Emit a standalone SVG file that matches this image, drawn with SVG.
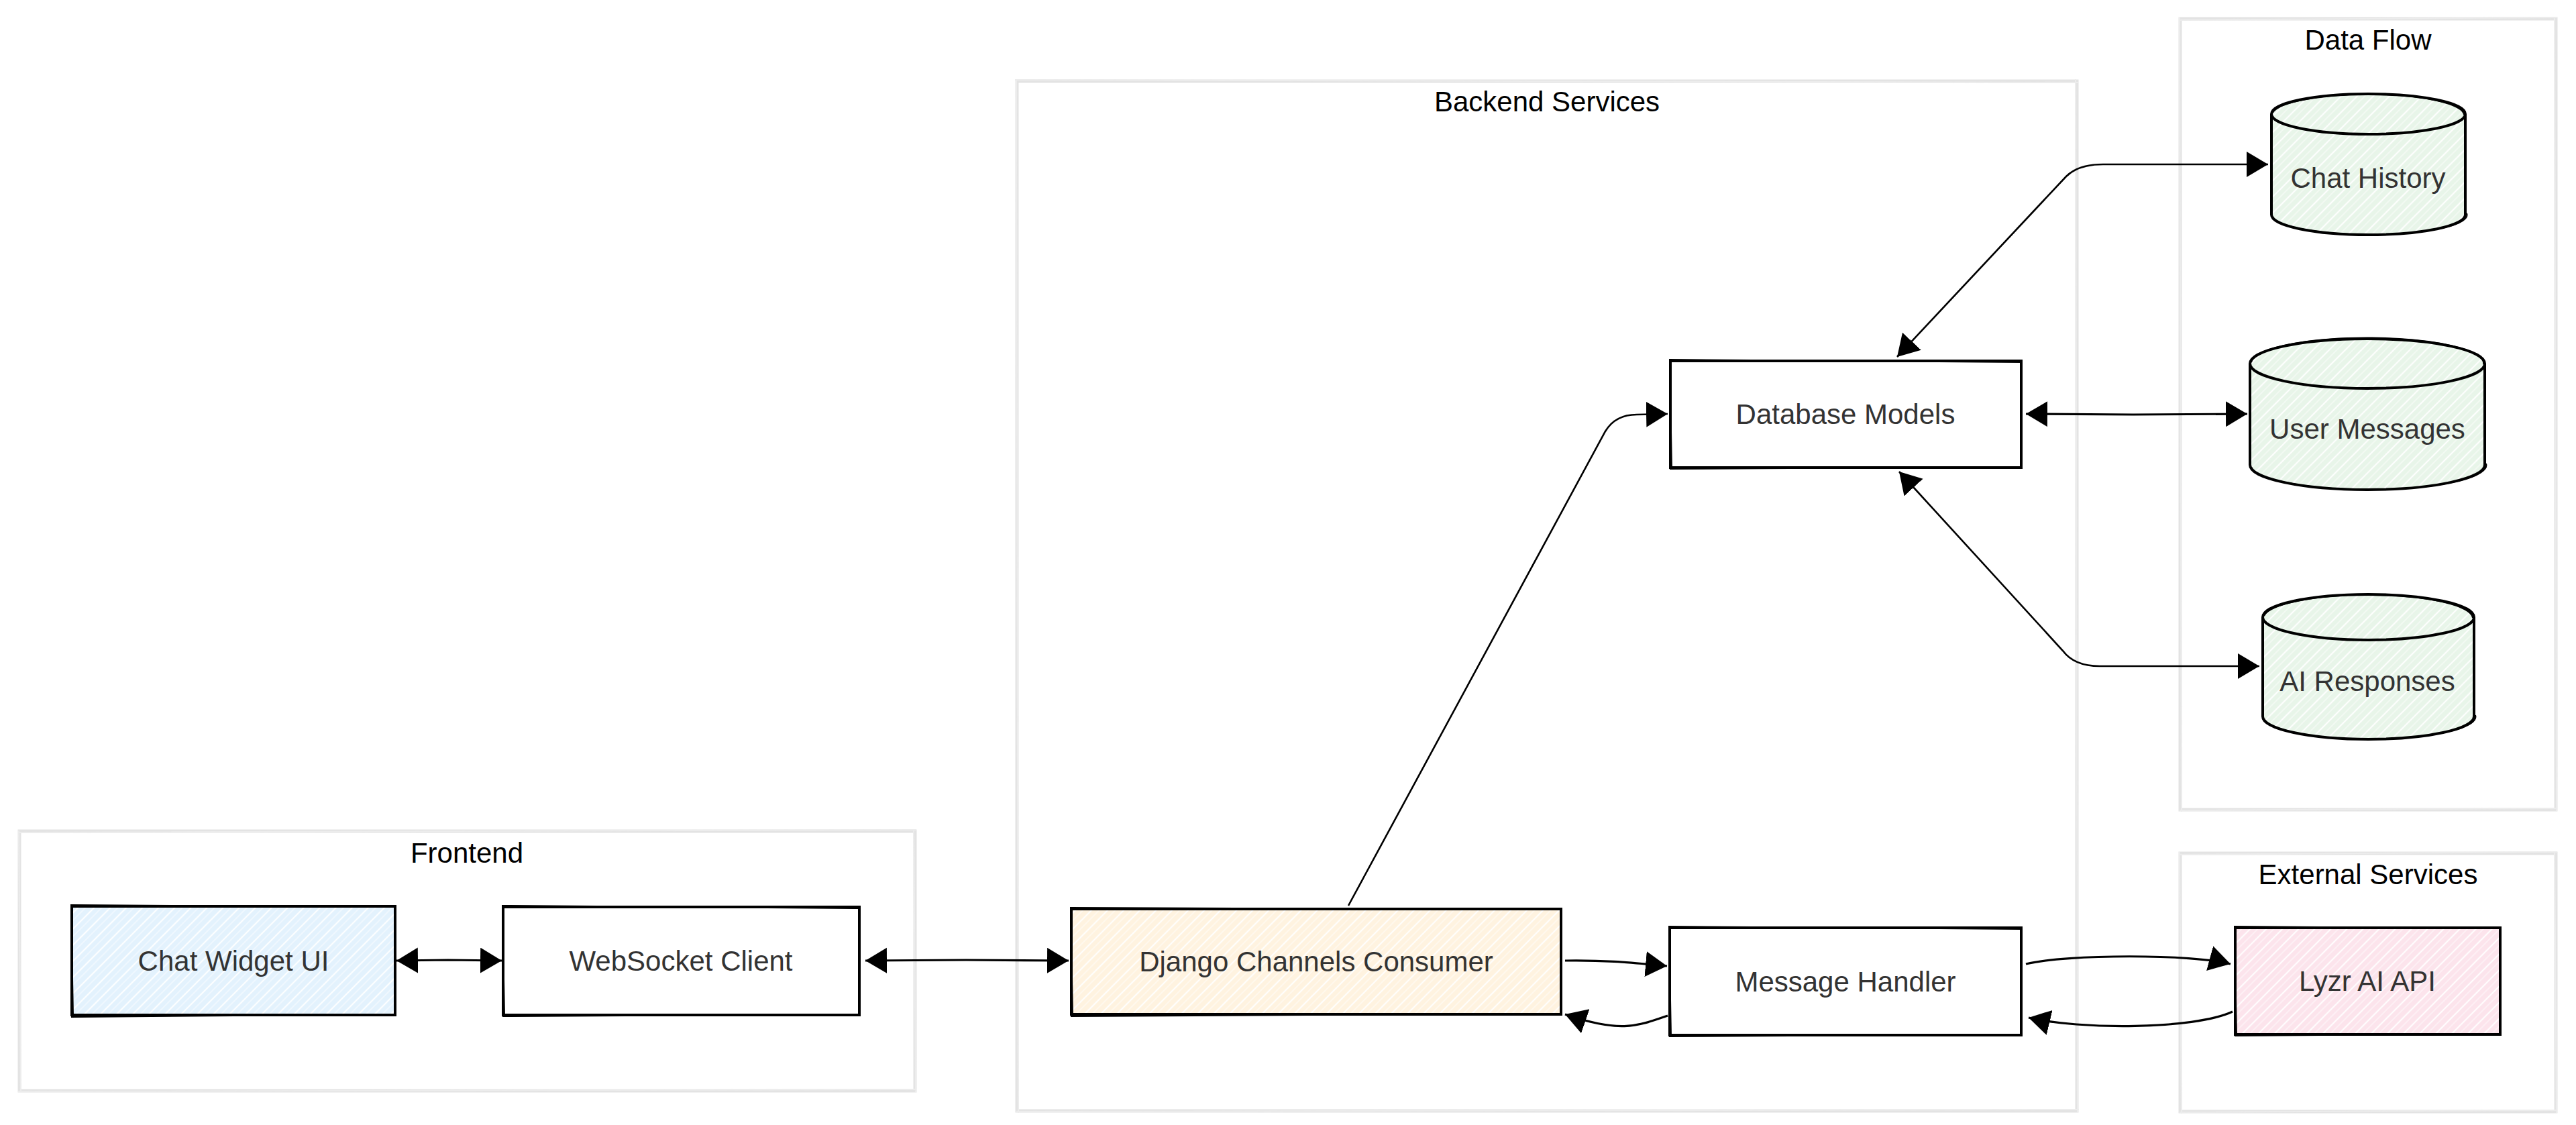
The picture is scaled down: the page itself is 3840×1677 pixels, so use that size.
<svg xmlns="http://www.w3.org/2000/svg" width="3840" height="1677" viewBox="0 0 3840 1677">
  <style>
    .grp { fill: none; stroke: #e3e3e3; stroke-width: 5; }
    .grp2 { fill: none; stroke: #ececec; stroke-width: 2; }
    .glabel { font-family: "Liberation Sans", Arial, sans-serif; font-size: 42px; fill: #000; text-anchor: middle; }
    .nlabel { font-family: "Liberation Sans", Arial, sans-serif; font-size: 42px; fill: #333; text-anchor: middle; }
    .box { stroke: #000; stroke-width: 4; }
    .sk { fill: none; stroke: #000; stroke-width: 2; }
    .hatch { fill: url(#hatch); stroke: none; }
    .edge { fill: none; stroke: #000; stroke-width: 3.2; }
    .edge-thin { fill: none; stroke: #000; stroke-width: 2.6; }
  </style>
  <defs>
    <pattern id="hatch" patternUnits="userSpaceOnUse" width="17" height="17" patternTransform="rotate(45)">
      <line x1="2" y1="0" x2="2" y2="17" stroke="#ffffff" stroke-width="2.2" stroke-opacity="0.9"/>
      <line x1="10" y1="0" x2="10" y2="17" stroke="#ffffff" stroke-width="1.2" stroke-opacity="0.7"/>
    </pattern>
    <marker id="arr" markerUnits="userSpaceOnUse" markerWidth="34" markerHeight="40" refX="32" refY="19" orient="auto-start-reverse" viewBox="0 0 34 40">
      <path d="M0,0 L32,19 L0,38 Z" fill="#000"/>
    </marker>
  </defs>

  <rect x="0" y="0" width="3840" height="1677" fill="#ffffff"/>

  <!-- Groups -->
  <g id="group-frontend">
    <rect class="grp" x="29" y="1239" width="1335" height="387"/>
    <path class="grp2" d="M27 1241 L1366 1237 M1362 1236 L1365 1628 M1366 1624 L27 1627 M31 1628 L28 1238"/>
    <text class="glabel" x="696" y="1286">Frontend</text>
  </g>
  <g id="group-backend">
    <rect class="grp" x="1516" y="121" width="1580" height="1535"/>
    <path class="grp2" d="M1513 119 L3098 123 M3094 118 L3097 1658 M3099 1654 L1515 1657 M1518 1659 L1515 119"/>
    <text class="glabel" x="2306" y="166">Backend Services</text>
  </g>
  <g id="group-dataflow">
    <rect class="grp" x="3250" y="28" width="560" height="1179"/>
    <path class="grp2" d="M3248 30 L3812 26 M3808 25 L3811 1209 M3812 1205 L3249 1208 M3252 1210 L3249 26"/>
    <text class="glabel" x="3530" y="74">Data Flow</text>
  </g>
  <g id="group-external">
    <rect class="grp" x="3250" y="1272" width="560" height="385"/>
    <path class="grp2" d="M3248 1274 L3812 1270 M3808 1269 L3811 1659 M3812 1655 L3249 1658 M3252 1660 L3249 1270"/>
    <text class="glabel" x="3530" y="1318">External Services</text>
  </g>

  <!-- Nodes -->
  <g id="node-chat-widget">
    <rect x="107" y="1351" width="482" height="162" fill="#e3f2fd"/>
    <rect class="hatch" x="107" y="1351" width="482" height="162"/>
    <rect class="box" fill="none" x="107" y="1351" width="482" height="162"/>
    <path class="sk" d="M105 1349 L591 1352 M590 1350 L588 1515 M591 1512 L106 1516 M109 1514 L106 1350"/>
    <text class="nlabel" x="348" y="1447">Chat Widget UI</text>
  </g>
  <g id="node-websocket-client">
    <rect class="box" fill="#ffffff" x="750" y="1352" width="531" height="161"/>
    <path class="sk" d="M748 1350 L1283 1354 M1282 1351 L1280 1515 M1283 1512 L749 1515 M752 1514 L749 1351"/>
    <text class="nlabel" x="1015" y="1447">WebSocket Client</text>
  </g>
  <g id="node-django-consumer">
    <rect x="1597" y="1355" width="730" height="157" fill="#fff3e0"/>
    <rect class="hatch" x="1597" y="1355" width="730" height="157"/>
    <rect class="box" fill="none" x="1597" y="1355" width="730" height="157"/>
    <path class="sk" d="M1595 1353 L2329 1356 M2328 1354 L2326 1514 M2329 1511 L1596 1515 M1599 1513 L1596 1354"/>
    <text class="nlabel" x="1962" y="1448">Django Channels Consumer</text>
  </g>
  <g id="node-message-handler">
    <rect class="box" fill="#ffffff" x="2489" y="1383" width="524" height="160"/>
    <path class="sk" d="M2487 1381 L3015 1385 M3014 1382 L3012 1545 M3015 1542 L2488 1545 M2491 1544 L2488 1382"/>
    <text class="nlabel" x="2751" y="1478">Message Handler</text>
  </g>
  <g id="node-database-models">
    <rect class="box" fill="#ffffff" x="2490" y="538" width="523" height="159"/>
    <path class="sk" d="M2488 536 L3015 540 M3014 537 L3012 699 M3015 696 L2489 699 M2492 698 L2489 537"/>
    <text class="nlabel" x="2751" y="632">Database Models</text>
  </g>
  <g id="node-lyzr-api">
    <rect x="3332" y="1383" width="395" height="159" fill="#fce4ec"/>
    <rect class="hatch" x="3332" y="1383" width="395" height="159"/>
    <rect class="box" fill="none" x="3332" y="1383" width="395" height="159"/>
    <path class="sk" d="M3330 1381 L3729 1384 M3728 1382 L3726 1544 M3729 1541 L3331 1544 M3334 1543 L3331 1382"/>
    <text class="nlabel" x="3529" y="1477">Lyzr AI API</text>
  </g>
  <g id="node-chat-history">
    <path d="M3386 170 A144.5 30 0 0 1 3675 170 L3675 320 A144.5 30 0 0 1 3386 320 Z" fill="#e8f5e9"/>
    <path class="hatch" d="M3386 170 A144.5 30 0 0 1 3675 170 L3675 320 A144.5 30 0 0 1 3386 320 Z"/>
    <path class="box" fill="none" d="M3386 170 A144.5 30 0 0 1 3675 170 A144.5 30 0 0 1 3386 170 L3386 320 A144.5 30 0 0 0 3675 320 L3675 170"/>
    <path class="sk" d="M3388 168 A143 31 0 0 1 3673 171 M3385 172 L3387 322 M3388 323 A144 29 0 0 0 3677 318"/>
    <text class="nlabel" x="3530" y="280">Chat History</text>
  </g>
  <g id="node-user-messages">
    <path d="M3354 542 A175 37 0 0 1 3704 542 L3704 693 A175 37 0 0 1 3354 693 Z" fill="#e8f5e9"/>
    <path class="hatch" d="M3354 542 A175 37 0 0 1 3704 542 L3704 693 A175 37 0 0 1 3354 693 Z"/>
    <path class="box" fill="none" d="M3354 542 A175 37 0 0 1 3704 542 A175 37 0 0 1 3354 542 L3354 693 A175 37 0 0 0 3704 693 L3704 542"/>
    <path class="sk" d="M3356 540 A173 38 0 0 1 3702 543 M3353 544 L3355 695 M3356 696 A174 36 0 0 0 3706 691"/>
    <text class="nlabel" x="3529" y="654">User Messages</text>
  </g>
  <g id="node-ai-responses">
    <path d="M3373 920 A157.5 34 0 0 1 3688 920 L3688 1068 A157.5 34 0 0 1 3373 1068 Z" fill="#e8f5e9"/>
    <path class="hatch" d="M3373 920 A157.5 34 0 0 1 3688 920 L3688 1068 A157.5 34 0 0 1 3373 1068 Z"/>
    <path class="box" fill="none" d="M3373 920 A157.5 34 0 0 1 3688 920 A157.5 34 0 0 1 3373 920 L3373 1068 A157.5 34 0 0 0 3688 1068 L3688 920"/>
    <path class="sk" d="M3375 918 A156 35 0 0 1 3686 921 M3372 922 L3374 1070 M3375 1071 A157 33 0 0 0 3690 1066"/>
    <text class="nlabel" x="3529" y="1030">AI Responses</text>
  </g>

  <!-- Connectors -->
  <g id="connectors">
    <path id="e-widget-ws" class="edge" d="M591 1432 L668 1431 L748 1432" marker-start="url(#arr)" marker-end="url(#arr)"/>
    <path id="e-ws-django" class="edge" d="M1290 1432 L1440 1431 L1593 1432" marker-start="url(#arr)" marker-end="url(#arr)"/>
    <path id="e-django-db" class="edge-thin" d="M2010 1350 L2393 643 Q2408 618 2440 618 L2486 617" marker-end="url(#arr)"/>
    <path id="e-django-mh" class="edge" d="M2333 1432 C2400 1431 2440 1436 2485 1440" marker-end="url(#arr)"/>
    <path id="e-mh-django" class="edge" d="M2486 1514 C2440 1530 2415 1540 2333 1512" marker-end="url(#arr)"/>
    <path id="e-mh-lyzr" class="edge" d="M3020 1437 C3080 1422 3270 1422 3325 1437" marker-end="url(#arr)"/>
    <path id="e-lyzr-mh" class="edge" d="M3328 1508 C3270 1535 3100 1535 3024 1517" marker-end="url(#arr)"/>
    <path id="e-db-history" class="edge-thin" d="M2828 532 L3080 263 Q3098 245 3135 245 L3381 245" marker-start="url(#arr)" marker-end="url(#arr)"/>
    <path id="e-db-usermsg" class="edge" d="M3020 617 L3180 618 L3350 617" marker-start="url(#arr)" marker-end="url(#arr)"/>
    <path id="e-db-airesp" class="edge-thin" d="M2831 703 L3075 970 Q3092 993 3130 993 L3368 993" marker-start="url(#arr)" marker-end="url(#arr)"/>
  </g>
</svg>
